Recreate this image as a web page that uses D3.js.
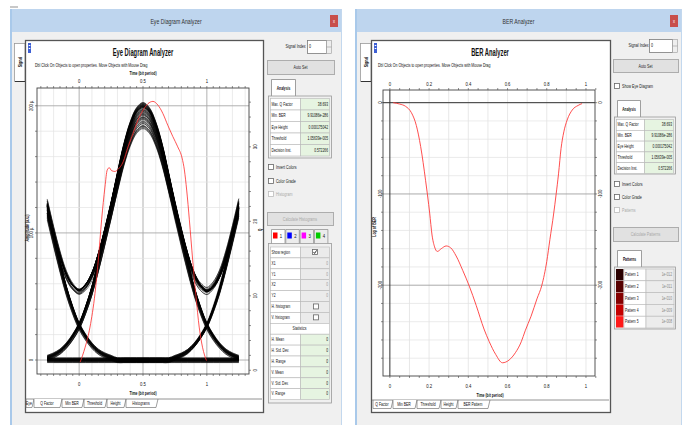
<!DOCTYPE html>
<html><head><meta charset="utf-8">
<script src="https://cdn.jsdelivr.net/npm/d3@7"></script>
<style>body{margin:0;background:#fff;overflow:hidden}text{font-family:"Liberation Sans",Arial,sans-serif}</style>
</head><body><svg id="c" width="686" height="425"></svg>
<script>
// ---------------- DATA ----------------
const eyeXTicks=[0,0.5,1];
const eyeXTickLabels=["0","0.5","1"];
const eyeYTicks=[0,100,200];
const eyeYTickLabels=["0","100 µ","200 µ"];
const qTicks=[0,10,20,30];
const qTickLabels=["0","10","20","30"];
// isolated "1" pulse read from the eye (µ), offsets 0 .. 0.75 bit in 0.05 steps
const pulseHalf=[200,196,185,168,146,122,99,77,57,41,28,19,12,7,4,2];
// spread of pulse peak amplitudes in the bundle (µ)
const eyeAmps=[203,202,200,199,198,196,195,194,192,190,188,186,184];
// spread of the baseline (µ)
const eyeOffsets=[-2,-1.4,-0.8,-0.3,0.2,0.7,1.2,1.7,-1,0.4,-0.5,1,0];
const eyePatterns=["111","110","011","010","100","001","101","000"];
// Q factor curve
const qTime=[0.008,0.047,0.085,0.124,0.150,0.176,0.202,0.220,0.236,0.254,0.280,0.306,0.345,0.383,0.422,0.461,0.5,0.539,0.578,0.617,0.655,0.694,0.733,0.772,0.806,0.824,0.842,0.863,0.889,0.915,0.940,0.966,0.997];
const qValue=[1.1,3.1,5.8,10.3,14.8,20.2,24.6,26.9,27.2,26.8,26.7,27.0,28.0,30.0,31.8,33.6,34.9,35.8,36.1,35.6,34.5,32.9,31.4,30.0,28.5,26.9,24.2,20.2,14.8,9.9,5.8,3.1,1.3];
// BER curve (log10)
const berTime=[0.017,0.05,0.08,0.11,0.135,0.157,0.182,0.203,0.215,0.228,0.242,0.262,0.287,0.31,0.338,0.372,0.405,0.44,0.48,0.507,0.54,0.574,0.608,0.64,0.67,0.69,0.72,0.75,0.775,0.8,0.816,0.835,0.848,0.86,0.873,0.887,0.904,0.93,0.96,0.98];
const berLog=[0,-1.5,-4,-11,-25,-48,-85,-121,-145,-158,-163,-160,-157,-159,-168,-184,-201,-222,-248,-262,-276,-285,-282,-274,-262,-250,-234,-215,-200,-174,-150,-122,-100,-78,-50,-32,-19,-8,-3,-1];
const berXTicks=[0,0.2,0.4,0.6,0.8,1];
const berXTickLabels=["0","0.2","0.4","0.6","0.8","1"];
const berYTicks=[0,-100,-200];
const berYTickLabels=["0","-100","-200"];
const analysisLabels=["Max. Q Factor","Min. BER","Eye Height","Threshold","Decision Inst."];
const analysisValues=["38.693","9.91086e-286","0.000175042","1.05639e-005","0.572266"];
const regionLabels=["Show region","X1","Y1","X2","Y2","H. histogram","V. histogram"];
const statLabels=["H. Mean","H. Std. Dev.","H. Range","V. Mean","V. Std. Dev.","V. Range"];
const statValues=["0","0","0","0","0","0"];
const regionTabColors=["#ff0000","#0000ff","#ff00ff","#00cc00"];
const regionTabLabels=["1","2","3","4"];
const eyeTabs=["Eye","Q Factor","Min BER","Threshold","Height","Histograms"];
const berTabs=["Q Factor","Min BER","Threshold","Height","BER Pattern"];
const patternLabels=["Pattern 1","Pattern 2","Pattern 3","Pattern 4","Pattern 5"];
const patternValues=["1e-012","1e-011","1e-010","1e-009","1e-008"];
const patternColors=["#2a0000","#560000","#850000","#c40000","#ff1a1a"];

// ---------------- HELPERS ----------------
const svg=d3.select("#c");
const defs=svg.append("defs");
function txt(p,x,y,s,o={}){
  const size=o.size||5.5, sx=o.sx||0.66;
  return p.append("text")
    .attr("transform",`translate(${x},${y})`+(o.rot?` rotate(${o.rot})`:"")+` scale(${sx},1)`)
    .attr("font-size",size).attr("font-weight",o.bold?"bold":"normal")
    .attr("fill",o.fill||"#111").attr("text-anchor",o.anchor||"start")
    .attr("dominant-baseline","central").text(s);
}
function rect(p,x,y,w,h,fill,stroke,sw){
  return p.append("rect").attr("x",x).attr("y",y).attr("width",w).attr("height",h)
    .attr("fill",fill||"none").attr("stroke",stroke||"none").attr("stroke-width",sw||1);
}
function line(p,x1,y1,x2,y2,c,w){
  return p.append("line").attr("x1",x1).attr("y1",y1).attr("x2",x2).attr("y2",y2).attr("stroke",c).attr("stroke-width",w||1);
}
function button(x,y,w,h,label,disabled){
  rect(svg,x+0.5,y+0.5,w,h,"#e1e1e1","#adadad");
  txt(svg,x+w/2,y+h/2+0.5,label,{anchor:"middle",fill:disabled?"#a8a8a8":"#222"});
}
function checkbox(x,y,label,checked,disabled){
  rect(svg,x+0.5,y-2.5,5,5,"#fff",disabled?"#bbb":"#666",0.8);
  if(checked) svg.append("path").attr("d",`M${x+1.5},${y} L${x+2.6},${y+1.5} L${x+4.6},${y-1.6}`).attr("fill","none").attr("stroke","#222").attr("stroke-width",0.9);
  if(label) txt(svg,x+8,y,label,{fill:disabled?"#a8a8a8":"#222"});
}
function spin(lx,x,y,w,h,label){
  txt(svg,lx,y+h/2,label,{anchor:"end"});
  rect(svg,x+0.5,y+0.5,w,h,"#fff","#7a7a7a",0.8);
  txt(svg,x+2,y+h/2,"0",{});
  rect(svg,x+w+0.5,y+0.5,5,h,"#eee","#999",0.6);
  line(svg,x+w+0.5,y+h/2+0.5,x+w+5.5,y+h/2+0.5,"#999",0.6);
}
function tabShape(x,y,w,h,label,active){
  svg.append("path").attr("d",`M${x+0.5},${y+h} L${x+0.5},${y+0.5} L${x+w-0.5},${y+0.5} L${x+w-0.5},${y+h}`)
    .attr("fill",active?"#fff":"#ececec").attr("stroke","#888").attr("stroke-width",0.8);
  txt(svg,x+w/2,y+h/2+0.5,label,{anchor:"middle",bold:true,sx:0.6});
}
function cell(x,y,w,h,fill){rect(svg,x+0.5,y+0.5,w,h,fill,"#b8b8b8",0.6);}

// ---------------- WINDOWS ----------------
function windowFrame(x0,x1,title){
  rect(svg,x0,9,x1-x0,425-9,"#f0f0f0");
  rect(svg,x0,9,x1-x0,23,"#bed5ee");
  rect(svg,x0,9,2,416,"#a9c9ea");
  rect(svg,x1-1,9,1,416,"#c3d8ee");
  txt(svg,(x0+x1)/2,21,title,{size:7.2,anchor:"middle",sx:0.72,fill:"#333"});
  rect(svg,x1-12,15,8,12,"#c84f4b");
  txt(svg,x1-8,21,"x",{size:5,anchor:"middle",fill:"#fff",sx:0.8});
}
windowFrame(10,342,"Eye Diagram Analyzer");
windowFrame(355,682,"BER Analyzer");
rect(svg,10,6,8,2,"#c8c8c8");

function chartFrame(x0,x1,sigX){
  rect(svg,sigX+0.5,43.5,x0-sigX-0.5,38,"#fff","#999",0.8);
  txt(svg,(sigX+x0)/2+0.5,62,"Signal",{rot:-90,bold:true,size:5.5,anchor:"middle",sx:0.65});
  line(svg,sigX+1,81.5,x0,81.5,"#333",1);
  rect(svg,x0+0.5,40.5,x1-x0,372,"#fff","#555",1.3);
  rect(svg,x0+3,43,3,10,"#3d5fd4");
  rect(svg,x0+3.7,45,1.6,1,"#fff"); rect(svg,x0+3.7,48,1.6,1,"#fff");
}
chartFrame(25,263,14);
chartFrame(371,610,360);

// ---------------- EYE DIAGRAM ----------------
const E={x0:37,x1:249,y0:88,y1:374};
const xE=d3.scaleLinear().domain([-0.33,1.33]).range([E.x0,E.x1]);
const yE=d3.scaleLinear().domain([-11,214]).range([E.y1,E.y0]);
const yQ=d3.scaleLinear().domain([-0.5,37.9]).range([E.y1,E.y0]);
txt(svg,143,53,"Eye Diagram Analyzer",{size:10,bold:true,anchor:"middle",sx:0.58});
txt(svg,35,65.5,"Dbl Click On Objects to open properties.  Move Objects with Mouse Drag",{size:5.5,sx:0.64});
txt(svg,143,73,"Time (bit period)",{size:6,bold:true,anchor:"middle",sx:0.58});
const ge=svg.append("g");
// grid
d3.range(-3,14).map(i=>i/10).forEach(v=>{
  const major=eyeXTicks.some(t=>Math.abs(t-v)<1e-9);
  line(ge,xE(v),E.y0,xE(v),E.y1,major?"#a8a8a8":"#e2e2e2",major?0.9:0.7);
});
d3.range(0,11).map(i=>i*20).forEach(v=>{
  const major=eyeYTicks.includes(v);
  line(ge,E.x0,yE(v),E.x1,yE(v),major?"#a8a8a8":"#e2e2e2",major?0.9:0.7);
});
// ticks
d3.range(-6,27).map(i=>i*0.05).forEach(v=>{
  line(ge,xE(v),E.y0,xE(v),E.y0-2,"#444",0.6);
  line(ge,xE(v),E.y1,xE(v),E.y1+2,"#444",0.6);
});
d3.range(0,11).map(i=>i*20).forEach(v=>line(ge,E.x0,yE(v),E.x0-2,yE(v),"#444",0.6));
d3.range(0,19).map(i=>i*2).forEach(v=>line(ge,E.x1,yQ(v),E.x1+2,yQ(v),"#444",0.6));
eyeXTicks.forEach((v,i)=>{
  txt(ge,xE(v),80.5,eyeXTickLabels[i],{anchor:"middle",size:6,sx:0.7});
  txt(ge,xE(v),383.5,eyeXTickLabels[i],{anchor:"middle",size:6,sx:0.7});
});
eyeYTicks.forEach((v,i)=>txt(ge,31,yE(v),eyeYTickLabels[i],{rot:-90,anchor:"middle",size:6,sx:0.7}));
qTicks.forEach((v,i)=>txt(ge,255,yQ(v),qTickLabels[i],{rot:-90,anchor:"middle",size:6,sx:0.7}));
txt(ge,27,228,"Amplitude (a.u.)",{rot:-90,anchor:"middle",size:6,bold:true,sx:0.6});
txt(ge,260.5,230,"Q",{rot:-90,anchor:"middle",size:5,bold:true,sx:0.7});
txt(ge,143,393.5,"Time (bit period)",{size:6,bold:true,anchor:"middle",sx:0.58});
// traces
defs.append("clipPath").attr("id","ce").append("rect").attr("x",E.x0).attr("y",E.y0).attr("width",E.x1-E.x0).attr("height",E.y1-E.y0);
const gt=ge.append("g").attr("clip-path","url(#ce)");
const eyeGrid=d3.range(-5,26).map(i=>i*0.05);
function pulse(d){const i=Math.round(Math.abs(d)/0.05);return i<pulseHalf.length?pulseHalf[i]:0;}
const centers=[-0.5,0.5,1.5];
const eyeLine=d3.line().x(d=>xE(d[0])).y(d=>yE(d[1])).curve(d3.curveCatmullRom);
const n=eyeAmps.length;
eyePatterns.forEach((p,pi)=>{
  eyeAmps.forEach((a,ai)=>{
    const amps=[eyeAmps[(ai+3)%n],a,eyeAmps[(ai+7)%n]];
    const off=eyeOffsets[(ai+pi)%eyeOffsets.length];
    const pts=eyeGrid.map(t=>{let v=off;for(let k=0;k<3;k++) if(p[k]==="1") v+=amps[k]/200*pulse(t-centers[k]);return [t,v];});
    gt.append("path").attr("d",eyeLine(pts)).attr("fill","none").attr("stroke","#000").attr("stroke-width",0.6).attr("stroke-opacity",0.8);
  });
});
const qLine=d3.line().x((d,i)=>xE(qTime[i])).y(d=>yQ(d)).curve(d3.curveMonotoneX);
gt.append("path").attr("d",qLine(qValue)).attr("fill","none").attr("stroke","#ff2a2a").attr("stroke-width",0.8);
rect(ge,E.x0,E.y0,E.x1-E.x0,E.y1-E.y0,"none","#444",0.9);

// tabs (eye)
function tabStrip(x0,x1,y,labels,xs,active){
  line(svg,x0,y,x1,y,"#777",0.8);
  labels.forEach((l,i)=>{
    const a=xs[i],b=xs[i+1];
    svg.append("path").attr("d",`M${a},${y} L${a},${y+8.5} L${b-2},${y+8.5} L${b},${y}`)
      .attr("fill",i===active?"#fff":"none").attr("stroke","#777").attr("stroke-width",0.7);
    txt(svg,(a+b)/2-1,y+4.6,l,{anchor:"middle",size:5.2,sx:0.66});
  });
}
tabStrip(26,262,399,eyeTabs,[26,34,62,84,107,126,158],1);

// ---------------- EYE RIGHT PANEL ----------------
spin(305.5,307,40,19,13,"Signal Index");
button(267,60,67,14,"Auto Set");
tabShape(271,79,25,17,"Analysis",true);
rect(svg,268.5,96,63,62,"#f0f0f0","#999",0.8);
analysisLabels.forEach((l,i)=>{
  const y=98+i*11.5;
  cell(270,y,30,11.5,"#fff"); cell(300,y,29,11.5,"#e6f4e1");
  txt(svg,271.5,y+6,l,{size:5.2,sx:0.64});
  txt(svg,328,y+6,analysisValues[i],{size:5.2,anchor:"end",sx:0.64});
});
checkbox(268,167,"Invert Colors",false,false);
checkbox(268,181,"Color Grade",false,false);
checkbox(268,194,"Histogram",false,true);
button(267,212,66,13,"Calculate Histograms",true);
regionTabColors.forEach((c,i)=>{
  const x=271+i*14.3;
  svg.append("path").attr("d",`M${x+0.5},${244} L${x+0.5},${229.5} L${x+14},${229.5} L${x+14},${244}`)
    .attr("fill",i===0?"#fff":"#ececec").attr("stroke","#888").attr("stroke-width",0.7);
  rect(svg,x+2,232.5,4.5,6,c);
  txt(svg,x+10,236,regionTabLabels[i],{size:6,anchor:"middle",sx:0.7});
});
rect(svg,268.5,243.5,63,159.5,"#f0f0f0","#999",0.8);
const rH=10.9, r0=246.5;
regionLabels.forEach((l,i)=>{
  const y=r0+i*rH;
  cell(270,y,30,rH,"#fff"); cell(300,y,29,rH,"#ebebeb");
  txt(svg,271.5,y+rH/2,l,{size:5.2,sx:0.64});
  if(i===0) checkbox(312,y+rH/2,"",true,false);
  else if(i>=5) checkbox(313,y+rH/2,"",false,false);
  else txt(svg,328,y+rH/2,"0",{size:5.2,anchor:"end",fill:"#999",sx:0.64});
});
{const y=r0+7*rH; cell(270,y,59,rH,"#fff"); txt(svg,299.5,y+rH/2,"Statistics",{size:5.4,anchor:"middle",sx:0.64});}
statLabels.forEach((l,i)=>{
  const y=r0+(8+i)*rH;
  cell(270,y,30,rH,"#fff"); cell(300,y,29,rH,"#e6f4e1");
  txt(svg,271.5,y+rH/2,l,{size:5.2,sx:0.64});
  txt(svg,328,y+rH/2,statValues[i],{size:5.2,anchor:"end",sx:0.64});
});

// ---------------- BER CHART ----------------
const B={x0:383,x1:595,y0:90,y1:376};
const xB=d3.scaleLinear().domain([-0.035,1.046]).range([B.x0,B.x1]);
const yB=d3.scaleLinear().domain([-299.5,13.9]).range([B.y1,B.y0]);
txt(svg,490,53,"BER Analyzer",{size:10,bold:true,anchor:"middle",sx:0.58});
txt(svg,378,65.5,"Dbl Click On Objects to open properties.  Move Objects with Mouse Drag",{size:5.5,sx:0.64});
const gb=svg.append("g");
d3.range(1,11).map(i=>i/10).forEach(v=>line(gb,xB(v),B.y0,xB(v),B.y1,"#dedede",0.7));
d3.range(0,15).map(i=>-i*20).forEach(v=>{
  const major=v===-100||v===-200;
  line(gb,B.x0,yB(v),B.x1,yB(v),major?"#a0a0a0":"#e2e2e2",major?0.9:0.7);
});
d3.range(-0,22).map(i=>i*0.05).forEach(v=>{
  line(gb,xB(v),B.y0,xB(v),B.y0-2,"#444",0.6);
  line(gb,xB(v),B.y1,xB(v),B.y1+2,"#444",0.6);
});
d3.range(0,15).map(i=>-i*20).forEach(v=>{
  line(gb,B.x0,yB(v),B.x0-2,yB(v),"#444",0.6);
  line(gb,B.x1,yB(v),B.x1+2,yB(v),"#444",0.6);
});
line(gb,xB(0),B.y0,xB(0),B.y1,"#333",1);
line(gb,B.x0,yB(0),B.x1,yB(0),"#333",1);
berXTicks.forEach((v,i)=>{
  txt(gb,xB(v),83.5,berXTickLabels[i],{anchor:"middle",size:6,sx:0.7});
  txt(gb,xB(v),385.5,berXTickLabels[i],{anchor:"middle",size:6,sx:0.7});
});
berYTicks.forEach((v,i)=>{
  txt(gb,379.5,yB(v),berYTickLabels[i],{rot:-90,anchor:"middle",size:6,sx:0.7});
  txt(gb,600,yB(v),berYTickLabels[i],{rot:-90,anchor:"middle",size:6,sx:0.7});
});
txt(gb,374.5,227,"Log of BER",{rot:-90,anchor:"middle",size:6,bold:true,sx:0.6});
txt(gb,490,395.5,"Time (bit period)",{size:6,bold:true,anchor:"middle",sx:0.58});
const berLine=d3.line().x((d,i)=>xB(berTime[i])).y(d=>yB(d)).curve(d3.curveMonotoneX);
gb.append("path").attr("d",berLine(berLog)).attr("fill","none").attr("stroke","#ff3a3a").attr("stroke-width",0.9);
rect(gb,B.x0,B.y0,B.x1-B.x0,B.y1-B.y0,"none","#444",0.9);
tabStrip(372,609,400,berTabs,[373,393,417,441,458,490],1);

// ---------------- BER RIGHT PANEL ----------------
spin(648.5,649,39,23,13,"Signal Index");
button(613,59,65,13,"Auto Set");
checkbox(614,86,"Show Eye Diagram",false,false);
tabShape(617,100,24,17,"Analysis",true);
rect(svg,614.5,117,61,57,"#f0f0f0","#999",0.8);
analysisLabels.forEach((l,i)=>{
  const y=119+i*10.8;
  cell(616,y,28,10.8,"#fff"); cell(644,y,29,10.8,"#e6f4e1");
  txt(svg,617.5,y+5.6,l,{size:5.2,sx:0.64});
  txt(svg,672,y+5.6,analysisValues[i],{size:5.2,anchor:"end",sx:0.64});
});
checkbox(614,184,"Invert Colors",false,false);
checkbox(614,197,"Color Grade",false,false);
checkbox(614,210,"Patterns",false,true);
button(613,227,65,14,"Calculate Patterns",true);
tabShape(617,250,25,17,"Patterns",true);
rect(svg,614.5,267,61,62,"#f0f0f0","#999",0.8);
patternLabels.forEach((l,i)=>{
  const y=268.5+i*11.8;
  rect(svg,616,y+0.5,7.5,11.3,patternColors[i]);
  cell(623.5,y,22,11.8,"#fff"); cell(645.5,y,28,11.8,"#ececec");
  txt(svg,625,y+6,l,{size:5.2,sx:0.64});
  txt(svg,672,y+6,patternValues[i],{size:5.2,anchor:"end",fill:"#888",sx:0.64});
});
</script></body></html>
